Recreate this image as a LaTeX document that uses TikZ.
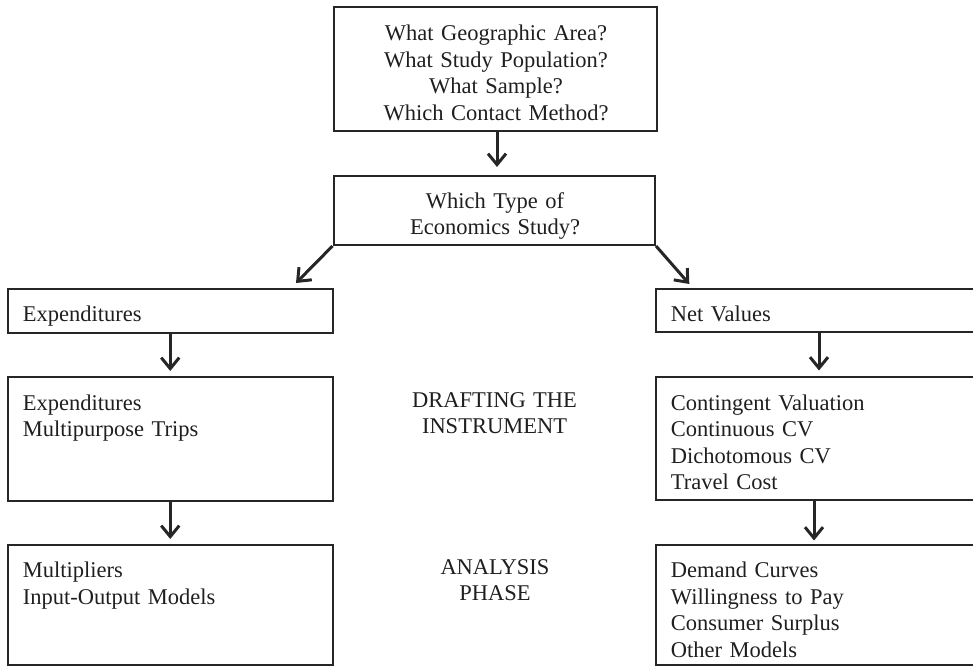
\documentclass[tikz,border=0pt]{standalone}
\usepackage{fontspec}
\setmainfont{Liberation Serif}
\usetikzlibrary{arrows.meta}

\begin{document}
\begin{tikzpicture}[x=1pt,y=-1pt,
  box/.style={draw=black!85,line width=2pt,inner sep=0pt},
  txt/.style={text=black!88,font=\fontsize{22.5}{26.5}\selectfont,inner sep=0pt,
    anchor=base west,align=left,text width=300pt},
  ctxt/.style={txt,anchor=base,align=center,text width=320pt},
  flow/.style={draw=black!85,line width=3pt,-{Straight Barb[length=11pt,width=18pt]}}]
\useasboundingbox (0,0) rectangle (973,667);

% boxes
\node[box,minimum width=323pt,minimum height=124pt] (qbox) at (495,69) {};
\node[box,minimum width=321.5pt,minimum height=69pt] (typebox) at (494.25,210.5) {};
\node[box,minimum width=324.5pt,minimum height=43.5pt] (expbox) at (170.25,310.75) {};
\node[box,minimum width=334pt,minimum height=43pt] (netbox) at (823,310.5) {};
\node[box,minimum width=324.5pt,minimum height=123.5pt] (expmid) at (170.25,438.75) {};
\node[box,minimum width=334pt,minimum height=123.5pt] (netmid) at (823,438.25) {};
\node[box,minimum width=324.5pt,minimum height=120pt] (expbot) at (170.25,605) {};
\node[box,minimum width=334pt,minimum height=120.5pt] (netbot) at (823,604.75) {};

% texts
\node[ctxt] (qtxt) at (496,40.7) {What Geographic Area?\\What Study Population?\\What Sample?\\Which Contact Method?};
\node[ctxt] (typetxt) at (495,208) {Which Type of\\Economics Study?};
\node[txt] (exptxt) at (22.7,321.7) {Expenditures};
\node[txt] (nettxt) at (670.7,321.7) {Net Values};
\node[txt] (expmidtxt) at (22.7,410) {Expenditures\\Multipurpose Trips};
\node[txt] (netmidtxt) at (670.7,410) {Contingent Valuation\\Continuous CV\\Dichotomous CV\\Travel Cost};
\node[txt] (expbottxt) at (22.7,577.5) {Multipliers\\Input-Output Models};
\node[txt] (netbottxt) at (670.7,577.5) {Demand Curves\\Willingness to Pay\\Consumer Surplus\\Other Models};
\node[ctxt] (drafting) at (494.5,407.3) {DRAFTING THE\\INSTRUMENT};
\node[ctxt] (analysis) at (495,574) {ANALYSIS\\PHASE};

% arrows
\coordinate (expin) at (296,283);
\coordinate (netin) at (689.3,284);
\draw[flow,shorten >=8pt] ([xshift=2pt]qbox.south) -- ([xshift=2pt]qbox.south |- typebox.north);
\draw[flow] (typebox.south west) -- (expin);
\draw[flow] (typebox.south east) -- (netin);
\draw[flow,shorten >=5pt] (expbox.south) -- (expmid.north);
\draw[flow,shorten >=5pt] (expmid.south) -- (expbot.north);
\draw[flow,shorten >=5pt] ([xshift=164pt]netbox.south west) -- ([xshift=164pt]netmid.north west);
\draw[flow,shorten >=3pt] ([xshift=159pt]netmid.south west) -- ([xshift=159pt]netbot.north west);
\end{tikzpicture}
\end{document}
